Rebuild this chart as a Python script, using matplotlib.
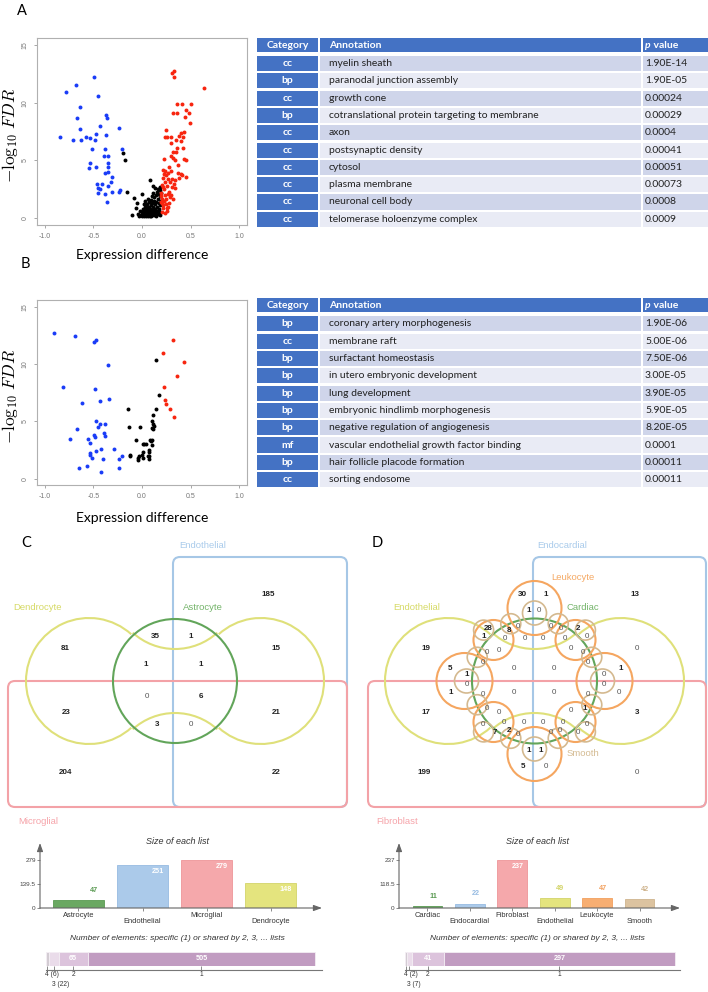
import numpy as np
import matplotlib.pyplot as plt
from matplotlib.patches import Rectangle, Circle, Arc, FancyBboxPatch

plt.rcParams['font.family'] = ['Liberation Sans', 'DejaVu Sans']
plt.rcParams['mathtext.fontset'] = 'cm'

# ---------------- data ----------------
# panel A volcano
blue_a_x = [-0.49, -0.68, -0.78, -0.45, -0.64, -0.67, -0.37, -0.36, -0.43, -0.64, -0.24, -0.84, -0.71, -0.63, -0.58,
            -0.54, -0.48, -0.47, -0.37, -0.51, -0.38, -0.21, -0.39, -0.35, -0.54, -0.35, -0.47, -0.55, -0.35, -0.38,
            -0.35, -0.31, -0.46, -0.41, -0.32, -0.45, -0.43, -0.45, -0.38, -0.35, -0.31, -0.24, -0.23, -0.36]
blue_a_y = [12.2, 11.5, 10.9, 10.6, 9.6, 8.7, 8.9, 8.7, 8.0, 7.7, 7.8, 7.0, 6.8, 6.8, 7.0,
            6.9, 6.8, 7.3, 7.2, 6.0, 6.0, 6.0, 5.4, 5.4, 4.8, 4.8, 4.4, 4.3, 4.4, 3.9,
            4.0, 3.6, 3.0, 3.0, 3.1, 2.6, 2.5, 2.2, 2.1, 2.8, 2.3, 2.3, 2.4, 1.4]
red_a_x = [0.31, 0.33, 0.33, 0.64, 0.32, 0.36, 0.36, 0.41, 0.50, 0.45, 0.48, 0.44, 0.49, 0.43, 0.40, 0.42, 0.38,
           0.35, 0.30, 0.25, 0.24, 0.26, 0.30, 0.40, 0.36, 0.42, 0.32, 0.35, 0.30, 0.32, 0.23, 0.34, 0.43, 0.45,
           0.37, 0.22, 0.24, 0.27, 0.30, 0.23, 0.25, 0.40, 0.41, 0.38, 0.45, 0.22, 0.27, 0.31, 0.34, 0.24, 0.29,
           0.21, 0.26, 0.31, 0.34, 0.23, 0.28, 0.20, 0.24, 0.30, 0.21, 0.25, 0.32, 0.21, 0.25, 0.28, 0.22, 0.26,
           0.21, 0.24, 0.22, 0.27, 0.23, 0.27, 0.29, 0.22, 0.20, 0.26, 0.33, 0.28, 0.37, 0.20]
red_a_y = [12.6, 12.7, 12.2, 11.3, 9.1, 9.1, 9.85, 9.9, 9.9, 9.4, 9.1, 8.8, 8.2, 7.5, 7.4, 7.0, 7.1,
           6.8, 7.0, 7.6, 7.0, 7.0, 6.5, 6.7, 6.1, 6.1, 5.7, 5.7, 5.4, 5.2, 5.1, 5.0, 5.1, 5.0,
           4.6, 4.2, 4.1, 3.9, 4.1, 3.8, 3.7, 3.8, 3.7, 3.5, 3.6, 3.5, 3.4, 3.4, 3.3, 3.1, 3.1,
           2.9, 2.8, 2.7, 2.6, 2.5, 2.3, 2.2, 2.0, 2.0, 1.7, 1.65, 1.65, 1.3, 1.25, 1.3, 0.87, 0.87,
           0.5, 0.43, 2.7, 2.1, 1.5, 1.0, 1.8, 1.1, 1.9, 0.6, 3.0, 4.4, 3.9, 1.4]
black_a_x = [-0.10, -0.08, -0.06, -0.04, -0.03, -0.02, -0.01, 0.00, 0.00, 0.00, 0.01, 0.01, 0.02, 0.02, 0.03, 0.03,
             0.04, 0.04, 0.05, 0.05, 0.05, 0.06, 0.06, 0.06, 0.07, 0.07, 0.07, 0.08, 0.08, 0.08, 0.08, 0.09, 0.09,
             0.09, 0.10, 0.10, 0.10, 0.10, 0.11, 0.11, 0.11, 0.12, 0.12, 0.12, 0.13, 0.13, 0.13, 0.13, 0.14, 0.14,
             0.14, 0.15, 0.15, 0.15, 0.16, 0.16, 0.16, 0.17, 0.17, 0.17, 0.18, 0.18, 0.18, 0.19, 0.19, 0.19, 0.20,
             0.20, 0.03, 0.06, 0.11, 0.02, -0.05, 0.04, 0.09, 0.12, -0.196, -0.175, -0.155]
black_a_y = [0.25, 1.75, 0.9, 0.4, 0.2, 0.6, 0.3, 0.15, 0.5, 2.1, 0.8, 0.35, 0.2, 0.55, 1.0, 0.3,
             0.7, 0.15, 1.2, 0.45, 0.25, 0.9, 0.6, 0.2, 1.4, 0.35, 1.0, 3.3, 0.5, 0.8, 0.2, 1.6, 1.1,
             0.4, 1.9, 0.7, 1.3, 0.25, 2.2, 1.0, 0.55, 1.5, 0.3, 1.8, 2.6, 0.8, 1.2, 0.45, 2.0, 1.4,
             0.2, 2.3, 1.0, 0.6, 2.5, 1.7, 0.35, 2.1, 1.3, 0.8, 2.7, 1.9, 0.5, 2.4, 1.1, 0.25, 2.2,
             1.5, 1.5, 1.7, 2.8, 1.2, 1.3, 0.95, 0.15, 0.65, 5.6, 5.0, 2.26]

# panel B volcano
blue_b_x = [-0.91, -0.69, -0.49, -0.47, -0.35, -0.81, -0.48, -0.43, -0.34, -0.62, -0.47, -0.43, -0.38, -0.45,
            -0.67, -0.74, -0.56, -0.49, -0.48, -0.39, -0.38, -0.54, -0.29, -0.42, -0.47, -0.53, -0.54, -0.51,
            -0.40, -0.24, -0.21, -0.65, -0.57, -0.42, -0.24]
blue_b_y = [12.7, 12.5, 11.9, 12.1, 9.9, 8.0, 7.8, 6.8, 7.0, 6.6, 5.0, 4.8, 4.8, 4.5,
            4.3, 3.5, 3.5, 3.8, 3.6, 4.0, 3.7, 3.1, 2.6, 2.6, 2.4, 2.2, 2.1, 1.8,
            1.7, 1.7, 2.0, 0.9, 1.1, 0.6, 0.9]
red_b_x = [0.32, 0.22, 0.43, 0.36, 0.23, 0.24, 0.25, 0.29, 0.33]
red_b_y = [12.1, 11.0, 10.2, 9.0, 8.0, 6.9, 6.5, 6.1, 5.4]
black_b_x = [0.14, 0.17, -0.14, 0.14, 0.11, -0.13, -0.02, 0.10, 0.11, 0.12, 0.10, 0.11, -0.06, 0.08, 0.10, 0.09,
             0.01, 0.02, 0.04, 0.10, 0.07, 0.07, 0.07, 0.01, 0.00, -0.12, -0.12, -0.04, -0.03, 0.01, 0.06, 0.07,
             -0.04]
black_b_y = [10.4, 7.3, 6.1, 6.1, 5.6, 4.5, 4.5, 5.0, 4.8, 4.6, 4.4, 4.3, 3.4, 3.4, 3.4, 3.3,
             3.0, 3.0, 3.0, 2.9, 2.5, 2.3, 2.0, 2.3, 2.1, 2.1, 1.95, 1.8, 2.0, 1.8, 2.0, 1.75,
             1.65]

# enrichment tables
cat_a = ['cc', 'bp', 'cc', 'bp', 'cc', 'cc', 'cc', 'cc', 'cc', 'cc']
ann_a = ['myelin sheath', 'paranodal junction assembly', 'growth cone',
         'cotranslational protein targeting to membrane', 'axon', 'postsynaptic density', 'cytosol',
         'plasma membrane', 'neuronal cell body', 'telomerase holoenzyme complex']
p_a = ['1.90E-14', '1.90E-05', '0.00024', '0.00029', '0.0004', '0.00041', '0.00051', '0.00073', '0.0008', '0.0009']
cat_b = ['bp', 'cc', 'bp', 'bp', 'bp', 'bp', 'bp', 'mf', 'bp', 'cc']
ann_b = ['coronary artery morphogenesis', 'membrane raft', 'surfactant homeostasis',
         'in utero embryonic development', 'lung development', 'embryonic hindlimb morphogenesis',
         'negative regulation of angiogenesis', 'vascular endothelial growth factor binding',
         'hair follicle placode formation', 'sorting endosome']
p_b = ['1.90E-06', '5.00E-06', '7.50E-06', '3.00E-05', '3.90E-05', '5.90E-05', '8.20E-05', '0.0001', '0.00011',
       '0.00011']

# venn counts
venn_c_counts = [185, 81, 35, 1, 15, 1, 1, 0, 6, 23, 21, 3, 0, 204, 22]
venn_d_counts = [30, 1, 13, 1, 0, 28, 8, 0, 1, 0, 0, 0, 0, 0, 2, 0, 0, 19, 0, 0, 0, 0, 0, 0, 0, 5, 1, 0, 0, 1,
                 0, 0, 0, 1, 0, 0, 0, 0, 0, 17, 0, 0, 0, 1, 3, 0, 0, 0, 0, 0, 0, 7, 2, 0, 0, 0, 0, 1, 1, 5,
                 0, 199, 0]

# list sizes
c_sets = ['Astrocyte', 'Endothelial', 'Microglial', 'Dendrocyte']
c_sizes = [47, 251, 279, 148]
d_sets = ['Cardiac', 'Endocardial', 'Fibroblast', 'Endothelial', 'Leukocyte', 'Smooth']
d_sizes = [11, 22, 237, 49, 47, 42]
c_shared = [6, 22, 65, 505]
c_shared_labels = ['4 (6)', '3 (22)', '2', '1']
d_shared = [2, 7, 41, 297]
d_shared_labels = ['4 (2)', '3 (7)', '2', '1']

# ---------------- layout ----------------
W, H = 708, 992
fig = plt.figure(figsize=(W / 100, H / 100), dpi=100)


def px_axes(x0, y0, x1, y1):
    return fig.add_axes([x0 / W, 1 - y1 / H, (x1 - x0) / W, (y1 - y0) / H])


ov = px_axes(0, 0, W, H)
ov.set_xlim(0, W)
ov.set_ylim(H, 0)
ov.axis('off')

GREEN, BLUE, PINK, YELLOW = '#62a55a', '#a6c7e6', '#f3a2a7', '#dfe07a'
ORANGE, TAN = '#f5a660', '#d4b98f'

# panel letters
for lab, x, y in [('A', 17, 11), ('B', 21, 264), ('C', 21, 543), ('D', 372, 543)]:
    ov.text(x, y, lab, ha='left', va='center', size=10.5, family='Lato')


def volcano(top, bottom, bx, by, rx, ry, kx, ky, xlab_y):
    ax = px_axes(37, top, 247, bottom)
    ax.scatter(kx, ky, s=8, color='black', linewidths=0)
    ax.scatter(bx, by, s=8, color='#1a3cf7', linewidths=0)
    ax.scatter(rx, ry, s=8, color='#f7250f', linewidths=0)
    ax.set_xlim(-1.08, 1.08)
    ax.set_ylim(-0.55, 15.6)
    ax.set_xticks([-1, -0.5, 0, 0.5, 1])
    ax.set_xticklabels(['-1.0', '-0.5', '0.0', '0.5', '1.0'])
    ax.set_yticks([0, 5, 10, 15])
    ax.set_yticklabels(['0', '5', '10', '15'], rotation=90, va='center')
    ax.tick_params(labelsize=5, labelcolor='#777', color='#999', length=2, width=0.6, pad=4)
    for s in ax.spines.values():
        s.set_color('#b0b0b0')
        s.set_linewidth(0.8)
    ov.text(10, (top + bottom) / 2 + 4, r'$-\log_{10}\,FDR$', rotation=90, ha='center', va='center', size=12.5)
    ov.text(142, xlab_y, 'Expression difference', ha='center', va='center', size=10, family='Lato')


volcano(38, 224.5, blue_a_x, blue_a_y, red_a_x, red_a_y, black_a_x, black_a_y, 255)
volcano(300, 485, blue_b_x, blue_b_y, red_b_x, red_b_y, black_b_x, black_b_y, 518)


def draw_table(top, cats, annots, pvals):
    hdr_h = 14
    dark = '#4472c4'
    tk = dict(family='Lato', size=7.5, va='center')
    for x0, x1 in [(257, 318), (320, 641), (643, 708)]:
        ov.add_patch(Rectangle((x0, top), x1 - x0, hdr_h, color=dark, lw=0))
    yc = top + hdr_h / 2
    ov.text(287.5, yc, 'Category', ha='center', color='white', weight='bold', **tk)
    ov.text(329, yc, 'Annotation', ha='left', color='white', weight='bold', **tk)
    t = ov.text(645, yc, 'p', ha='left', color='white', weight='bold', style='italic', **tk)
    ov.annotate(' value', xy=(1, 0.5), xycoords=t, ha='left', color='white', weight='bold', **tk)
    for i, (c, a, p) in enumerate(zip(cats, annots, pvals)):
        yc = top + 25.6 + i * 17.3
        y0 = yc - 7.6
        shade = '#cfd5ea' if i % 2 == 0 else '#e9ebf5'
        ov.add_patch(Rectangle((257, y0), 61, 15.2, color=dark, lw=0))
        ov.add_patch(Rectangle((320, y0), 321, 15.2, color=shade, lw=0))
        ov.add_patch(Rectangle((643, y0), 65, 15.2, color=shade, lw=0))
        ov.text(287.5, yc, c, ha='center', color='white', weight='bold', **tk)
        ov.text(329, yc, a, ha='left', color='#222', **tk)
        ov.text(645, yc, p, ha='left', color='#222', **tk)


draw_table(38, cat_a, ann_a, p_a)
draw_table(298.3, cat_b, ann_b, p_b)


# ---------------- venn diagrams ----------------
def yellow_band(cx, cy, d, dv=95, r=63):
    a = np.degrees(np.arctan2(dv, d))
    kw = dict(edgecolor=YELLOW, lw=1.5)
    ov.add_patch(Arc((cx - d, cy), 2 * r, 2 * r, theta1=a, theta2=360 - a, **kw))
    ov.add_patch(Arc((cx + d, cy), 2 * r, 2 * r, theta1=a - 180, theta2=180 - a, **kw))
    ov.add_patch(Arc((cx, cy - dv), 2 * r, 2 * r, theta1=a, theta2=180 - a, **kw))
    ov.add_patch(Arc((cx, cy + dv), 2 * r, 2 * r, theta1=180 + a, theta2=360 - a, **kw))


def rbox(x0, y0, x1, y1, color):
    ov.add_patch(FancyBboxPatch((x0, y0), x1 - x0, y1 - y0, boxstyle='round,pad=0,rounding_size=7',
                                fc='none', ec=color, lw=1.5))


def put_counts(counts, pos):
    for v, (x, y) in zip(counts, pos):
        ov.text(x, y, str(v), ha='center', va='center', size=5.8,
                weight='bold' if v else 'normal', color='#222' if v else '#555')


# C
rbox(173, 557, 347, 807, BLUE)
rbox(8, 681, 347, 807, PINK)
yellow_band(175, 681, 86)
ov.add_patch(Circle((175, 681), 62, fc='none', ec=GREEN, lw=1.5))
venn_c_pos = [(268, 594), (65, 649), (155, 636), (191, 636), (276, 649), (146, 664), (201, 664), (147, 697),
              (201, 697), (66, 712), (276, 712), (157, 725), (191, 725), (65, 773), (276, 773)]
put_counts(venn_c_counts, venn_c_pos)
lk = dict(ha='center', va='center', size=6.8)
ov.text(203, 546, 'Endothelial', color='#a9cbeb', **lk)
ov.text(38, 608, 'Dendrocyte', color='#d6da66', **lk)
ov.text(203, 608, 'Astrocyte', color='#74b46a', **lk)
ov.text(38, 822, 'Microglial', color='#f6a4aa', **lk)

# D
cx, cy = 534.5, 681
rbox(533, 557, 706, 807, BLUE)
rbox(368, 681, 706, 807, PINK)
yellow_band(cx, cy, 86.5)
ov.add_patch(Circle((cx, cy), 62.5, fc='none', ec=GREEN, lw=1.5))
for ang, dist, r in [(90, 73, 27), (270, 73, 27), (180, 70, 28), (0, 70, 28),
                     (135, 58, 20), (45, 58, 20), (225, 58, 20), (315, 58, 20)]:
    t = np.radians(ang)
    ov.add_patch(Circle((cx + dist * np.cos(t), cy - dist * np.sin(t)), r, fc='none', ec=ORANGE, lw=1.5))
tan_rings = [(a, 62, 10) for a in np.arange(22.5, 360, 45)] + \
            [(a, 72, 10) for a in (45, 135, 225, 315)] + [(a, 68, 12) for a in (0, 90, 180, 270)]
for ang, dist, r in tan_rings:
    t = np.radians(ang)
    ov.add_patch(Circle((cx + dist * np.cos(t), cy - dist * np.sin(t)), r, fc='none', ec=TAN, lw=1.2))
venn_d_pos = [(522, 594), (546, 594), (635, 594), (529, 611), (539, 611), (488, 628), (509, 631), (518, 627),
              (484, 637), (505, 638), (525, 638), (543, 638), (551, 627), (561, 629), (578, 628), (565, 638),
              (587, 637), (426, 649), (487, 652), (499, 650), (571, 648), (583, 652), (637, 649), (483, 663),
              (588, 663), (450, 669), (467, 675), (514, 669), (554, 669), (621, 669), (604, 675), (467, 685),
              (604, 685), (451, 692), (514, 692), (554, 692), (619, 692), (483, 695), (588, 695), (426, 712),
              (487, 708), (499, 712), (571, 711), (585, 708), (637, 712), (483, 725), (504, 722), (524, 722),
              (543, 722), (563, 722), (587, 725), (495, 733), (509, 731), (518, 734), (551, 733), (560, 731),
              (578, 733), (529, 750), (541, 750), (523, 767), (546, 767), (424, 773), (637, 773)]
put_counts(venn_d_counts, venn_d_pos)
ov.text(562, 546, 'Endocardial', color='#a9cbeb', **lk)
ov.text(573, 577, 'Leukocyte', color='#f5a964', **lk)
ov.text(417, 608, 'Endothelial', color='#d6da66', **lk)
ov.text(583, 608, 'Cardiac', color='#74b46a', **lk)
ov.text(583, 753, 'Smooth', color='#d4bb92', **lk)
ov.text(397, 821, 'Fibroblast', color='#f6a4aa', **lk)


# ---------------- list size charts ----------------
def size_chart(box, xlim, names, sizes, fills, label_cols, width, dx):
    ax = px_axes(*box)
    ax.set_facecolor('none')
    xs = np.arange(len(names))
    m = max(sizes)
    ax.bar(xs, sizes, width=width, color=fills, edgecolor=[c for c in label_cols], linewidth=0.6)
    ax.set_xlim(*xlim)
    ax.set_ylim(0, m * 1.355)
    for s in ax.spines.values():
        s.set_visible(False)
    arrow = dict(arrowstyle='-|>,head_length=0.5,head_width=0.18', color='#666', lw=0.8, shrinkA=0, shrinkB=0)
    ax.annotate('', xy=(0, 1), xytext=(0, 0), xycoords='axes fraction', arrowprops=arrow)
    ax.annotate('', xy=(1, 0), xytext=(0, 0), xycoords='axes fraction', arrowprops=arrow)
    ax.set_yticks([0, m / 2, m])
    ax.set_yticklabels([f'{v:g}' for v in (0, m / 2, m)])
    ax.set_xticks(xs)
    ax.set_xticklabels([])
    ax.tick_params(axis='y', length=2, width=0.6, color='#777', labelsize=4.6, pad=1, labelcolor='#444')
    ax.tick_params(axis='x', length=2, width=0.6, color='#777')
    for i, (n, v) in enumerate(zip(names, sizes)):
        ax.annotate(n, xy=(i, 0), xytext=(0, -3 if i % 2 == 0 else -7.5), textcoords='offset points',
                    ha='center', va='top', size=5.4, color='#333')
        if v / m > 0.3:
            ax.annotate(str(v), xy=(i + dx, v), xytext=(0, -5), textcoords='offset points',
                        ha='center', va='center', size=5.2, weight='bold', color='white')
        else:
            ax.annotate(str(v), xy=(i + dx, v), xytext=(0, 7), textcoords='offset points',
                        ha='center', va='center', size=5.2, weight='bold', color=label_cols[i])


def shared_chart(box, frac, counts, labels):
    ax = px_axes(*box)
    ax.set_facecolor('none')
    total = sum(counts)
    lefts = np.cumsum([0] + counts[:-1])
    ax.barh(0.5, counts, left=lefts, height=1, color=['#d3ccd3', '#eadcea', '#dcc3dc', '#c19cc1'],
            edgecolor='#f4eef4', linewidth=0.6)
    ax.set_xlim(0, total * frac)
    ax.set_ylim(0, 1)
    for k in ('top', 'left', 'right'):
        ax.spines[k].set_visible(False)
    ax.spines['bottom'].set_position(('outward', 3))
    ax.spines['bottom'].set_color('#777')
    centers = lefts + np.array(counts) / 2
    ax.set_xticks(centers)
    ax.set_xticklabels([])
    ax.set_yticks([])
    ax.tick_params(axis='x', direction='in', length=3, width=0.6, color='#777')
    for i, (c, v, lab) in enumerate(zip(centers, counts, labels)):
        if v / total > 0.05:
            ax.text(c, 0.5, str(v), ha='center', va='center', size=5.2, weight='bold', color='white')
        narrow = '(' in lab
        ax.annotate(lab, xy=(c, 0), xytext=(-1.5 if narrow else 0, -10.5 if i == 1 else -3.5),
                    textcoords='offset points', ha='left' if narrow else 'center', va='top',
                    size=4.8, color='#333')


size_chart((40, 843, 322, 908), (-0.60, 3.80), c_sets, c_sizes,
           ['#6aa862', '#abcaea', '#f5a8ab', '#e4e47e'], ['#5a9a52', '#96bbe2', '#ee9599', '#d3d46a'], 0.8, 0.24)
size_chart((399, 843, 680, 908), (-0.672, 5.955), d_sets, d_sizes,
           ['#6aa862', '#abcaea', '#f5a8ab', '#e4e47e', '#f7ae72', '#dcc3a0'],
           ['#5a9a52', '#96bbe2', '#ee9599', '#d3d46a', '#f2a05e', '#cfb48e'], 0.7, 0.13)
shared_chart((46, 952, 322, 966), 276 / 269, c_shared, c_shared_labels)
shared_chart((405, 952, 680, 966), 275 / 270, d_shared, d_shared_labels)

tt = dict(ha='center', va='center', style='italic', color='#333')
for x in (177, 537):
    ov.text(x, 841, 'Size of each list', size=6.5, **tt)
    ov.text(x, 938, 'Number of elements: specific (1) or shared by 2, 3, ... lists', size=6, **tt)

fig.savefig('out.png', dpi=100)
